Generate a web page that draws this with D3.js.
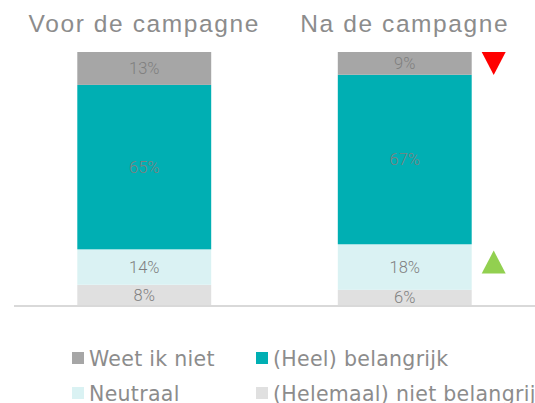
<!DOCTYPE html>
<html>
<head>
<meta charset="utf-8">
<script src="https://cdn.jsdelivr.net/npm/d3@7"></script>
<style>
  body { margin: 0; background: #fff; }
  #chart { width: 535px; height: 403px; overflow: hidden; }
</style>
</head>
<body>
<div id="chart"></div>
<script>
//data
var periods = ["Voor de campagne", "Na de campagne"];
var series = ["Helemaal niet", "Neutraal", "Heel belangrijk", "Weet ik niet"];
var helemaalNiet = [8, 6];
var neutraal = [14, 18];
var heelBelangrijk = [65, 67];
var weetIkNiet = [13, 9];

var legendLabels = ["Weet ik niet", "(Heel) belangrijk", "Neutraal", "(Helemaal) niet belangrijk"];
var legendKeys = ["Weet ik niet", "Heel belangrijk", "Neutraal", "Helemaal niet"];

//change markers next to the second bar: series + direction
var changeSeries = ["Weet ik niet", "Neutraal"];
var changeDir = ["down", "up"];

var colors = {
  "Weet ik niet": "#a6a6a6",
  "Heel belangrijk": "#00afb3",
  "Neutraal": "#daf2f3",
  "Helemaal niet": "#e0e0e0"
};

var w = 535, h = 403;
var margin = {top: 52, left: 14, right: 0, bottom: 98};

var svg = d3.select("#chart").append("svg")
  .attr("width", w)
  .attr("height", h);

//build the table for the stack
var rows = periods.map(function(p, i) {
  return {
    period: p,
    "Helemaal niet": helemaalNiet[i],
    "Neutraal": neutraal[i],
    "Heel belangrijk": heelBelangrijk[i],
    "Weet ik niet": weetIkNiet[i]
  };
});

var stacked = d3.stack().keys(series)(rows);

var x = d3.scaleBand()
  .domain(periods)
  .range([margin.left, w - margin.right])
  .paddingInner(0.486)
  .paddingOuter(0.243);

var y = d3.scaleLinear()
  .domain([0, 100])
  .range([h - margin.bottom, margin.top]);

//titles above the bars
svg.append("g").selectAll("text")
  .data(periods)
  .enter()
  .append("text")
  .attr("x", function(d) { return x(d) + x.bandwidth() / 2; })
  .attr("y", 32)
  .attr("text-anchor", "middle")
  .attr("font-family", "Liberation Sans, Arial, sans-serif")
  .attr("font-size", 24.5)
  .attr("letter-spacing", 1.6)
  .attr("fill", "#8c8c8c")
  .text(function(d) { return d; });

//baseline
svg.append("line")
  .attr("x1", margin.left)
  .attr("x2", w)
  .attr("y1", y(0) + 1)
  .attr("y2", y(0) + 1)
  .attr("stroke", "#d9d9d9")
  .attr("stroke-width", 2);

//bars
var layers = svg.append("g").selectAll("g")
  .data(stacked)
  .enter()
  .append("g")
  .attr("fill", function(d) { return colors[d.key]; });

layers.selectAll("rect")
  .data(function(d) { return d; })
  .enter()
  .append("rect")
  .attr("x", function(d) { return x(d.data.period); })
  .attr("y", function(d) { return y(d[1]); })
  .attr("width", x.bandwidth())
  .attr("height", function(d) { return y(d[0]) - y(d[1]); });

//value labels
layers.selectAll("text")
  .data(function(d) { return d; })
  .enter()
  .append("text")
  .attr("x", function(d) { return x(d.data.period) + x.bandwidth() / 2; })
  .attr("y", function(d) { return (y(d[0]) + y(d[1])) / 2; })
  .attr("dy", "0.36em")
  .attr("text-anchor", "middle")
  .attr("font-family", "Roboto, sans-serif")
  .attr("font-weight", 300)
  .attr("font-size", 16.5)
  .attr("fill", "#7f7f7f")
  .text(function(d) { return (d[1] - d[0]) + "%"; });

//change triangles next to the last bar
var last = periods[periods.length - 1];
var triX = x(last) + x.bandwidth() + 22;

svg.append("g").selectAll("path")
  .data(changeSeries)
  .enter()
  .append("path")
  .attr("d", function(d, i) {
    var layer = stacked.find(function(s) { return s.key === d; });
    var seg = layer[periods.length - 1];
    var cy = (y(seg[0]) + y(seg[1])) / 2;
    if (changeDir[i] === "down") {
      cy = y(seg[1]) + 11.5;
      return "M" + (triX - 12) + "," + (cy - 11.5) + "L" + (triX + 12) + "," + (cy - 11.5) + "L" + triX + "," + (cy + 11.5) + "Z";
    }
    cy = cy - 5;
    return "M" + (triX - 12) + "," + (cy + 11.5) + "L" + (triX + 12) + "," + (cy + 11.5) + "L" + triX + "," + (cy - 11.5) + "Z";
  })
  .attr("fill", function(d, i) { return changeDir[i] === "down" ? "#ff0000" : "#92d050"; });

//legend, two columns
var legendX = [72, 256];
var legendY = [352, 387];

var legend = svg.append("g").selectAll("g")
  .data(legendLabels)
  .enter()
  .append("g")
  .attr("transform", function(d, i) {
    return "translate(" + legendX[i % 2] + "," + legendY[Math.floor(i / 2)] + ")";
  });

legend.append("rect")
  .attr("width", 12)
  .attr("height", 12)
  .attr("fill", function(d, i) { return colors[legendKeys[i]]; });

legend.append("text")
  .attr("x", 17)
  .attr("y", 14)
  .attr("font-family", "DejaVu Sans, sans-serif")
  .attr("font-size", 20.5)
  .attr("letter-spacing", 0.3)
  .attr("fill", "#8c8c8c")
  .text(function(d) { return d; });
</script>
</body>
</html>
